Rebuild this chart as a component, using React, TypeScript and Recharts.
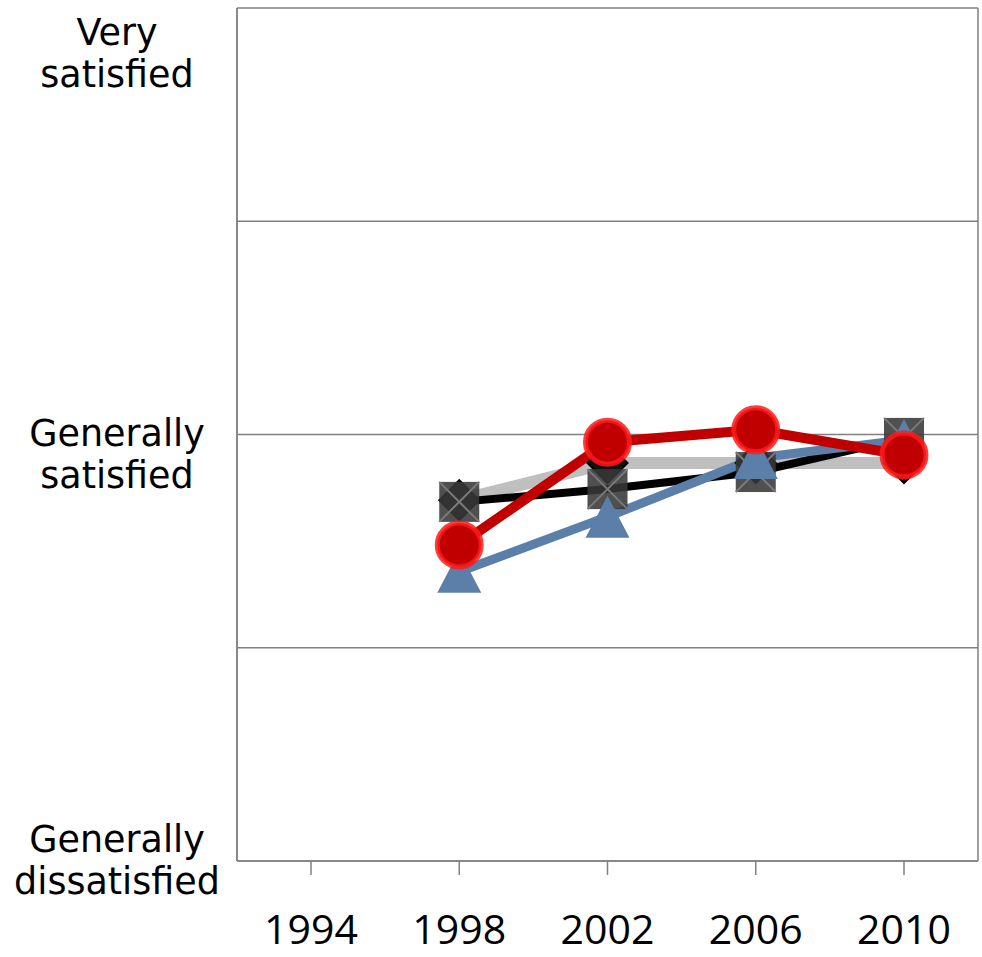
import { LineChart, Line, XAxis, YAxis, CartesianGrid } from 'recharts';

const years = ['1994', '1998', '2002', '2006', '2010'];
const grayValues = [null, 1.846, 1.933, 1.933, 1.933];
const blackValues = [null, 1.842, 1.872, 1.912, 1.992];
const blueValues = [null, 1.678, 1.807, 1.945, 1.987];
const redValues = [null, 1.741, 1.982, 2.011, 1.952];

const yTicks = [1, 1.5, 2, 2.5, 3];
const yTickLabels: Record<number, string[]> = {
  1: ['Generally', 'dissatisfied'],
  2: ['Generally', 'satisfied'],
  3: ['Very', 'satisfied'],
};

const data = years.map((year, i) => ({
  year,
  gray: grayValues[i],
  black: blackValues[i],
  blue: blueValues[i],
  red: redValues[i],
}));

const GRID = '#808080';

// first-line baseline offset per label (Excel pushes the edge labels inward)
const labelShift: Record<number, number> = { 1: -9, 2: 11, 3: 37 };

const YTick = (props: any) => {
  const { x, y, payload } = props;
  const lines = yTickLabels[payload.value];
  if (!lines) return <g />;
  const cx = x - 120;
  const base = y + labelShift[payload.value];
  return (
    <text x={cx} y={base} textAnchor="middle" fontFamily="DejaVu Sans" fontSize={36.5} fill="#000">
      {lines.map((l, i) => (
        <tspan key={i} x={cx} y={base + i * 42}>{l}</tspan>
      ))}
    </text>
  );
};

const XTick = (props: any) => {
  const { x, y, payload } = props;
  return (
    <text x={x} y={y + 69} textAnchor="middle" fontFamily="Open Sans" fontSize={41} fill="#000">
      {payload.value}
    </text>
  );
};

const Diamond = (props: any) => {
  const { cx, cy, index } = props;
  if (cy == null || cx == null) return <g key={index} />;
  const s = 20;
  return (
    <path key={index} d={`M${cx},${cy - s} L${cx + s},${cy} L${cx},${cy + s} L${cx - s},${cy} Z`} fill="#111" stroke="#000" strokeWidth={2} />
  );
};

const XSquare = (props: any) => {
  const { cx, cy, index } = props;
  if (cy == null || cx == null) return <g key={index} />;
  const s = 20;
  return (
    <g key={index}>
      <rect x={cx - s} y={cy - s} width={2 * s} height={2 * s} fill="#383838" fillOpacity={0.88} />
      <path d={`M${cx - s},${cy - s} L${cx + s},${cy + s} M${cx + s},${cy - s} L${cx - s},${cy + s}`} stroke="#7a7a7a" strokeWidth={2} />
    </g>
  );
};

const Triangle = (props: any) => {
  const { cx, cy, index } = props;
  if (cy == null || cx == null) return <g key={index} />;
  return (
    <path key={index} d={`M${cx},${cy - 21} L${cx + 22},${cy + 21} L${cx - 22},${cy + 21} Z`} fill="#5b7fa9" />
  );
};

const Circle = (props: any) => {
  const { cx, cy, index } = props;
  if (cy == null || cx == null) return <g key={index} />;
  return (
    <circle key={index} cx={cx} cy={cy} r={22} fill="#c00000" stroke="#ff1a1a" strokeOpacity={0.85} strokeWidth={5} />
  );
};

export default function App() {
  return (
    <div style={{ position: 'absolute', left: 0, top: 0, background: '#fff' }}>
      <LineChart width={982} height={957} data={data} margin={{ top: 8, right: 4, left: 37, bottom: 16 }}>
        <CartesianGrid
          stroke={GRID}
          strokeWidth={1.5}
          verticalCoordinatesGenerator={({ offset }: any) => [offset.left, offset.left + offset.width]}
        />
        <XAxis
          dataKey="year"
          height={80}
          padding={{ left: 74, right: 74 }}
          axisLine={{ stroke: GRID, strokeWidth: 1.5 }}
          tickLine={{ stroke: GRID, strokeWidth: 1.5 }}
          tickSize={14}
          tickMargin={0}
          tick={<XTick />}
          interval={0}
        />
        <YAxis
          domain={[1, 3]}
          ticks={yTicks}
          width={200}
          axisLine={{ stroke: GRID, strokeWidth: 1.5 }}
          tickLine={false}
          tickSize={0}
          tickMargin={0}
          tick={<YTick />}
          interval={0}
        />
        <Line dataKey="gray" stroke="#bfbfbf" strokeWidth={12} dot={Diamond} activeDot={false} isAnimationActive={false} />
        <Line dataKey="black" stroke="#000" strokeWidth={8} dot={XSquare} activeDot={false} isAnimationActive={false} />
        <Line dataKey="blue" stroke="#5b7fa9" strokeWidth={9} dot={Triangle} activeDot={false} isAnimationActive={false} />
        <Line dataKey="red" stroke="#c00000" strokeWidth={10} dot={Circle} activeDot={false} isAnimationActive={false} />
      </LineChart>
    </div>
  );
}
